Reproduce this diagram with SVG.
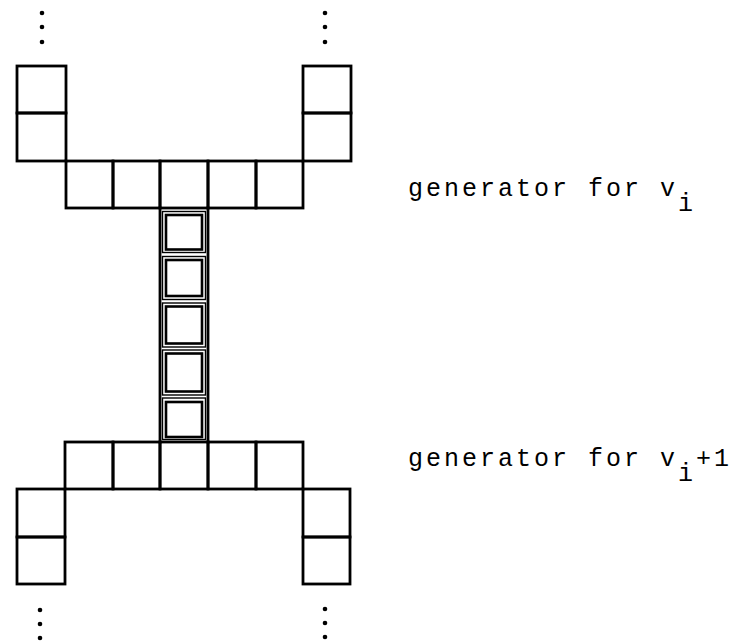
<svg xmlns="http://www.w3.org/2000/svg" width="746" height="644" viewBox="0 0 746 644">
<style>
.ln{fill:none;stroke:#000;stroke-width:2.8;stroke-linecap:square}
.thin{fill:none;stroke:#000;stroke-width:1.4}
.thick{fill:none;stroke:#000;stroke-width:2.6}
.dot{fill:#000}
.lbl{font-family:"Liberation Mono","Courier New",monospace;font-size:25px;fill:#000;letter-spacing:3px}
</style>
<rect width="746" height="644" fill="#fff"/>
<g id="dots-top">
<circle class="dot" cx="42" cy="13" r="2.3"/><circle class="dot" cx="42" cy="27" r="2.3"/><circle class="dot" cx="42" cy="42" r="2.3"/>
<circle class="dot" cx="325" cy="13" r="2.3"/><circle class="dot" cx="325" cy="27" r="2.3"/><circle class="dot" cx="325" cy="42" r="2.3"/>
</g>
<g id="generator-vi">
<rect class="ln" x="17" y="66" width="49" height="47"/>
<rect class="ln" x="17" y="113" width="49" height="48"/>
<rect class="ln" x="303" y="66" width="48" height="47"/>
<rect class="ln" x="303" y="113" width="48" height="48"/>
<rect class="ln" x="66" y="161" width="47" height="47"/>
<rect class="ln" x="113" y="161" width="47" height="47"/>
<rect class="ln" x="160" y="161" width="48" height="47"/>
<rect class="ln" x="208" y="161" width="48" height="47"/>
<rect class="ln" x="256" y="161" width="47" height="47"/>
</g>
<g id="connectors">
<line class="ln" x1="160" y1="208" x2="160" y2="442"/>
<line class="ln" x1="208" y1="208" x2="208" y2="442"/>
</g>
<g id="chain">
<g id="c1"><rect class="thin" x="162.5" y="211.5" width="43" height="41"/><rect class="thick" x="166" y="215" width="36" height="34.5"/></g>
<g id="c2"><rect class="thin" x="162.5" y="256.5" width="43" height="43"/><rect class="thick" x="166" y="260" width="36" height="36"/></g>
<g id="c3"><rect class="thin" x="162.5" y="303" width="43" height="44"/><rect class="thick" x="166" y="306.5" width="36" height="37"/></g>
<g id="c4"><rect class="thin" x="162.5" y="350" width="43" height="45"/><rect class="thick" x="166" y="353.5" width="36" height="38"/></g>
<g id="c5"><rect class="thin" x="162.5" y="398" width="43" height="41.5"/><rect class="thick" x="166" y="402" width="36" height="35"/></g>
</g>
<g id="generator-vi1">
<rect class="ln" x="65" y="442" width="48" height="47"/>
<rect class="ln" x="113" y="442" width="47" height="47"/>
<rect class="ln" x="160" y="442" width="48" height="47"/>
<rect class="ln" x="208" y="442" width="48" height="47"/>
<rect class="ln" x="256" y="442" width="47" height="47"/>
<rect class="ln" x="17" y="489" width="48" height="48"/>
<rect class="ln" x="17" y="537" width="48" height="47"/>
<rect class="ln" x="303" y="489" width="47" height="48"/>
<rect class="ln" x="303" y="537" width="47" height="47"/>
</g>
<g id="dots-bottom">
<circle class="dot" cx="40" cy="610" r="2.3"/><circle class="dot" cx="40" cy="624" r="2.3"/><circle class="dot" cx="40" cy="638" r="2.3"/>
<circle class="dot" cx="325" cy="609" r="2.3"/><circle class="dot" cx="325" cy="623" r="2.3"/><circle class="dot" cx="325" cy="637" r="2.3"/>
</g>
<g id="label-vi">
<text class="lbl" x="408" y="196">generator for v<tspan dy="15">i</tspan></text>
</g>
<g id="label-vi1">
<text class="lbl" x="408" y="466">generator for v<tspan dy="15">i</tspan><tspan dy="-15">+1</tspan></text>
</g>
</svg>
